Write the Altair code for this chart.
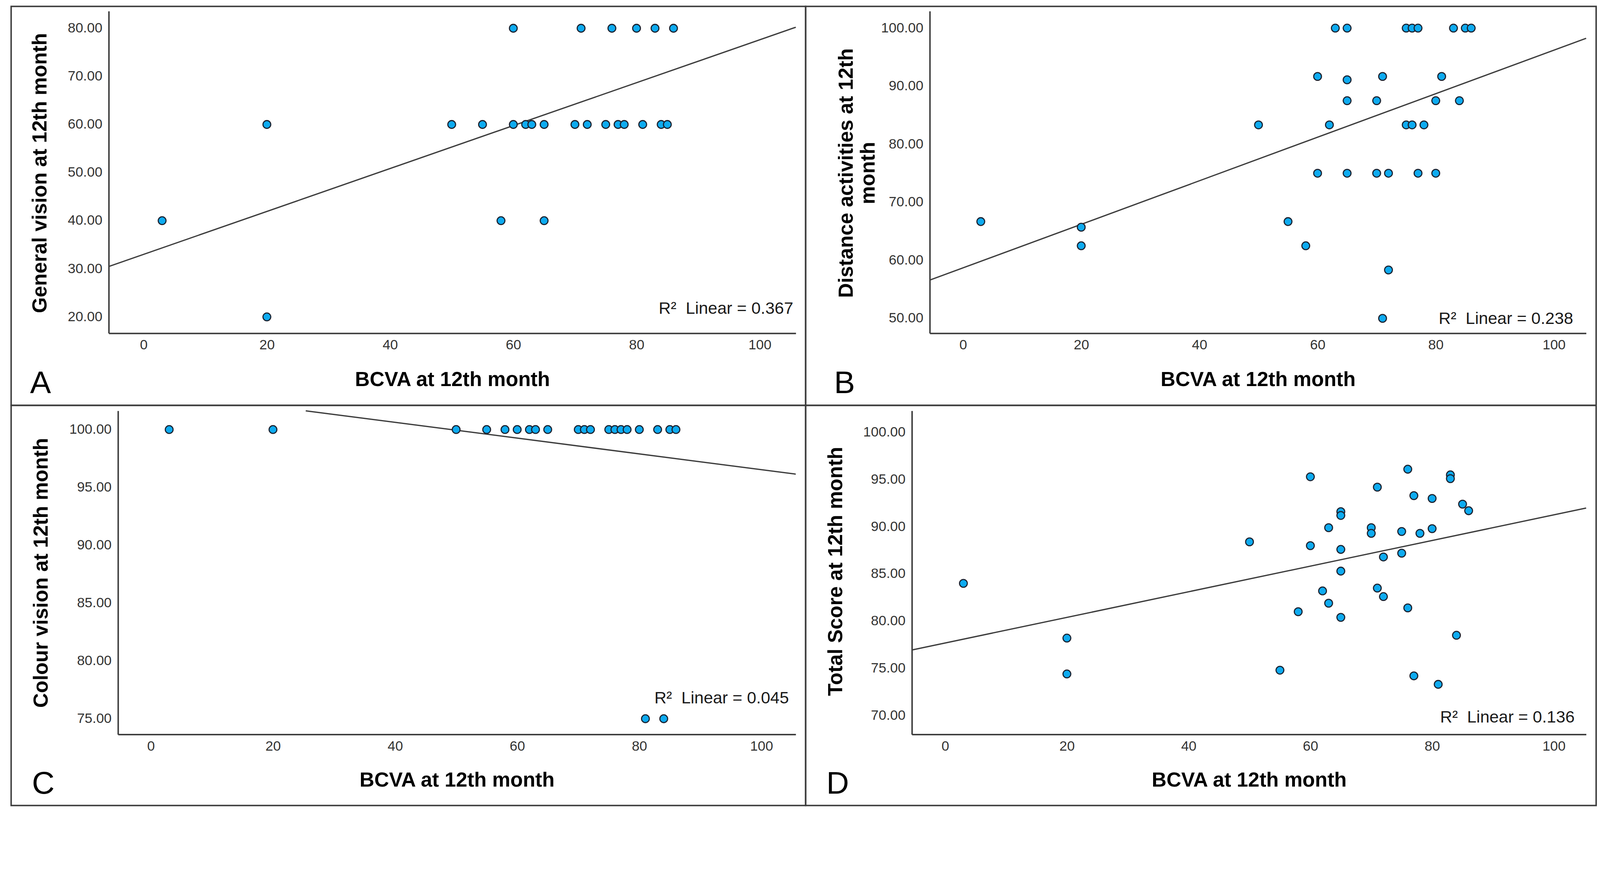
import altair as alt
import pandas as pd

# ---------------- data ----------------
# Panel A: General vision
a_bcva = [60, 71, 76, 80, 83, 86,
          20, 50, 55, 60, 62, 63, 65, 70, 72, 75, 77, 78, 81, 84, 85,
          3, 58, 65,
          20]
a_score = [80, 80, 80, 80, 80, 80,
           60, 60, 60, 60, 60, 60, 60, 60, 60, 60, 60, 60, 60, 60, 60,
           40, 40, 40,
           20]
a_fit = [33.0, 0.446]          # intercept, slope
a_r2 = "0.367"

# Panel B: Distance activities
b_bcva = [63, 65, 75, 76, 77, 83, 85, 86,
          60, 71, 81,
          65,
          65, 70, 80, 84,
          50, 62, 75, 76, 78,
          60, 65, 70, 72, 77, 80,
          3, 20, 20, 55, 58, 72, 71]
b_score = [100, 100, 100, 100, 100, 100, 100, 100,
           91.67, 91.67, 91.67,
           91.1,
           87.5, 87.5, 87.5, 87.5,
           83.33, 83.33, 83.33, 83.33, 83.33,
           75, 75, 75, 75, 75, 75,
           66.67, 65.7, 62.5, 66.67, 62.5, 58.33, 50]
b_fit = [58.7, 0.375]
b_r2 = "0.238"

# Panel C: Colour vision
c_bcva = [3, 20, 50, 55, 58, 60, 62, 63, 65, 70, 71, 72, 75, 76, 77, 78, 80, 83, 85, 86,
          81, 84]
c_score = [100, 100, 100, 100, 100, 100, 100, 100, 100, 100, 100, 100, 100, 100, 100, 100, 100, 100, 100, 100,
           75, 75]
c_fit = [103.35, -0.0682]
c_r2 = "0.045"

# Panel D: Total score
d_bcva = [3, 20, 20, 50, 55, 58, 60, 60, 62, 63, 63, 65, 65, 65, 65, 65, 70, 70, 71, 71,
          72, 72, 75, 75, 76, 76, 77, 77, 78, 80, 80, 81, 83, 83, 84, 85, 86]
d_score = [84.0, 78.2, 74.4, 88.4, 74.8, 81.0, 95.3, 88.0, 83.2, 89.9, 81.9, 91.6, 91.2, 87.6, 85.3, 80.4,
           89.9, 89.3, 94.2, 83.5, 86.8, 82.6, 89.5, 87.2, 96.1, 81.4, 93.3, 74.2, 89.3, 93.0, 89.8,
           73.3, 95.5, 95.1, 78.5, 92.4, 91.7]
d_fit = [77.68, 0.1358]
d_r2 = "0.136"

x_title = "BCVA at 12th month"
x_ticks = [0, 20, 40, 60, 80, 100]

# ---------------- styling / layout ----------------
FONT = "Liberation Sans, Arial, sans-serif"
AXIS_COLOR = "#3a3a3a"
POINT_FILL = "#0EABF0"
POINT_STROKE = "#1b2230"
LINE_COLOR = "#3c3c3c"

panels = [
    dict(letter="A", bx=a_bcva, by=a_score, fit=a_fit, r2=a_r2,
         ytitle="General vision at 12th month", yticks=[20, 30, 40, 50, 60, 70, 80],
         W=2181, H=1095, xr=[268, 2154], yr=[897, 13],
         xdom=[-5.66, 105.85], ydom=[16.6, 83.56],
         ytx=-189, yty=457, xty=127, r2pos=(2147, 844), lpos=(52, 1061)),
    dict(letter="B", bx=b_bcva, by=b_score, fit=b_fit, r2=b_r2,
         ytitle=["Distance activities at 12th", "month"], yticks=[50, 60, 70, 80, 90, 100],
         W=2170, H=1095, xr=[340.8, 2142.5], yr=[897, 13],
         xdom=[-5.63, 105.45], ydom=[47.43, 102.93],
         ytx=-229, yty=457, xty=127, r2pos=(2107, 872), lpos=(78, 1061)),
    dict(letter="C", bx=c_bcva, by=c_score, fit=c_fit, r2=c_r2,
         ytitle="Colour vision at 12th month", yticks=[75, 80, 85, 90, 95, 100],
         W=2181, H=1098, xr=[293.4, 2153.8], yr=[902.9, 14.8],
         xdom=[-5.38, 105.62], ydom=[73.64, 101.62],
         ytx=-211, yty=459, xty=126, r2pos=(2135, 818), lpos=(57, 1065)),
    dict(letter="D", bx=d_bcva, by=d_score, fit=d_fit, r2=d_r2,
         ytitle="Total Score at 12th month", yticks=[70, 75, 80, 85, 90, 95, 100],
         W=2170, H=1098, xr=[291.7, 2142.5], yr=[902.9, 14.8],
         xdom=[-5.46, 105.3], ydom=[67.99, 102.29],
         ytx=-209, yty=455, xty=126, r2pos=(2111, 870), lpos=(57, 1065)),
]


def fit_segment(fit, xdom, ydom):
    b, m = fit
    x0, x1 = xdom
    xa, xb = x0, x1
    if m != 0:
        xs_lo = (ydom[0] - b) / m
        xs_hi = (ydom[1] - b) / m
        lo, hi = min(xs_lo, xs_hi), max(xs_lo, xs_hi)
        xa, xb = max(xa, lo), min(xb, hi)
    return pd.DataFrame([{"bcva": xv, "score": b + m * xv} for xv in (xa, xb)])


def make_panel(p):
    df = pd.DataFrame({"bcva": p["bx"], "score": p["by"]})
    xs = alt.Scale(domain=p["xdom"], range=p["xr"], nice=False, zero=False)
    ys = alt.Scale(domain=p["ydom"], range=p["yr"], nice=False, zero=False)

    xaxis = alt.Axis(
        values=x_ticks, format="d", ticks=False, grid=False,
        offset=-(p["H"] - p["yr"][0]),
        domainColor=AXIS_COLOR, domainWidth=4,
        labelFont=FONT, labelFontSize=38, labelColor="#333333", labelPadding=14,
        title=x_title, titleFont=FONT, titleFontSize=56, titleFontWeight="bold",
        titleColor="#000000", titleX=(p["xr"][0] + p["xr"][1]) / 2, titleY=p["xty"],
        titleAlign="center", titleBaseline="middle",
    )
    yaxis = alt.Axis(
        values=p["yticks"], format=".2f", ticks=False, grid=False,
        offset=-p["xr"][0],
        domainColor=AXIS_COLOR, domainWidth=4,
        labelFont=FONT, labelFontSize=38, labelColor="#333333", labelPadding=18,
        title=p["ytitle"], titleFont=FONT, titleFontSize=56, titleFontWeight="bold",
        titleColor="#000000", titleAngle=270, titleX=p["ytx"], titleY=p["yty"],
        titleAlign="center", titleBaseline="middle", titleLineHeight=60,
    )

    line = alt.Chart(fit_segment(p["fit"], p["xdom"], p["ydom"])).mark_line(
        color=LINE_COLOR, strokeWidth=3.5
    ).encode(
        x=alt.X("bcva:Q", scale=xs, axis=xaxis),
        y=alt.Y("score:Q", scale=ys, axis=yaxis),
    )
    pts = alt.Chart(df).mark_circle(
        size=460, fill=POINT_FILL, stroke=POINT_STROKE, strokeWidth=3,
        opacity=1, fillOpacity=1, strokeOpacity=1,
    ).encode(
        x=alt.X("bcva:Q", scale=xs),
        y=alt.Y("score:Q", scale=ys),
    )
    r2 = alt.Chart(pd.DataFrame({"t": ["R\u00b2\u00a0 Linear = " + p["r2"]]})).mark_text(
        font=FONT, fontSize=46, color="#1a1a1a", align="right", baseline="alphabetic"
    ).encode(
        x=alt.value(p["r2pos"][0]), y=alt.value(p["r2pos"][1]), text="t:N"
    )
    letter = alt.Chart(pd.DataFrame({"t": [p["letter"]]})).mark_text(
        font=FONT, fontSize=86, color="#000000", align="left", baseline="alphabetic"
    ).encode(
        x=alt.value(p["lpos"][0]), y=alt.value(p["lpos"][1]), text="t:N"
    )
    return alt.layer(line, pts, r2, letter).properties(width=p["W"], height=p["H"])


A, B, C, D = [make_panel(p) for p in panels]

chart = alt.concat(
    A, B, C, D, columns=2, spacing=0, bounds="flush"
).properties(
    padding={"left": 20, "top": -70, "right": 0, "bottom": 0},
    background="white",
).configure_view(
    stroke="#3c3c3c", strokeWidth=4
)

chart.save("out.html", embed_options={"renderer": "svg", "actions": False})
